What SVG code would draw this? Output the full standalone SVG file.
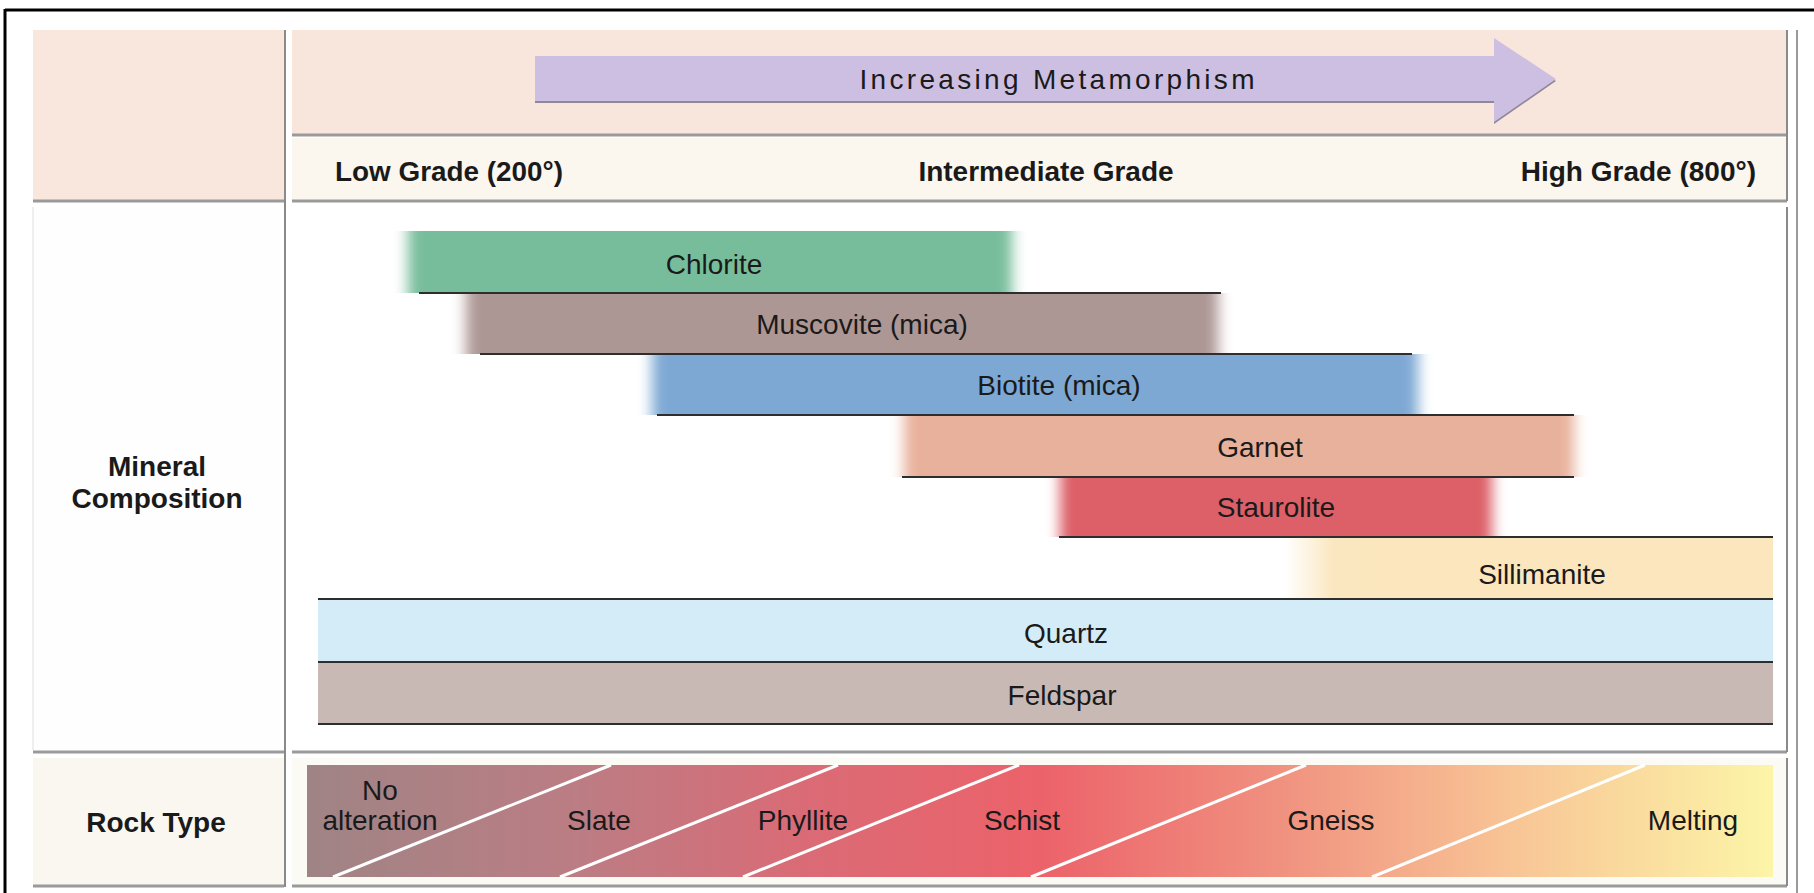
<svg xmlns="http://www.w3.org/2000/svg" width="1814" height="893" viewBox="0 0 1814 893">
<defs>
<style>
.lbl{font-family:"Liberation Sans",Arial,sans-serif;font-size:28px;fill:#1a1a1a;text-anchor:middle}
.bold{font-weight:bold}
.arrowtxt{font-size:28px}
.sep{stroke:#2e2e2e;stroke-width:2}
.shadow{stroke:#9a9a9a;stroke-width:3}
.div{stroke:#8a8a8a;stroke-width:2}
.cut{stroke:#ffffff;stroke-width:3}
</style>
<filter id="soft" x="-5%" y="0" width="110%" height="100%"><feGaussianBlur stdDeviation="7 0"/></filter>
<linearGradient id="sill" x1="0" x2="1" y1="0" y2="0">
<stop offset="0" stop-color="#fbe7bf" stop-opacity="0"/>
<stop offset="0.1" stop-color="#fbe7bf" stop-opacity="1"/>
<stop offset="1" stop-color="#fbe6bd"/>
</linearGradient>
<linearGradient id="rock" x1="0" x2="1" y1="0" y2="0">
<stop offset="0" stop-color="#9f8485"/>
<stop offset="0.18" stop-color="#bb7d84"/>
<stop offset="0.34" stop-color="#da6b76"/>
<stop offset="0.5" stop-color="#ec626a"/>
<stop offset="0.66" stop-color="#f0907f"/>
<stop offset="0.82" stop-color="#f8c495"/>
<stop offset="1" stop-color="#fcf5a8"/>
</linearGradient>
</defs>
<rect width="1814" height="893" fill="#ffffff"/>

<g id="frame">
<line x1="5" y1="10" x2="1814" y2="10" stroke="#000" stroke-width="3"/>
<line x1="5" y1="9" x2="5" y2="893" stroke="#000" stroke-width="3"/>
<line x1="1797" y1="30" x2="1797" y2="893" stroke="#9a9a9a" stroke-width="2"/>
</g>

<g id="header">
<rect x="33" y="30" width="251" height="170" fill="#f9e7de"/>
<rect x="292" y="30" width="1495" height="104" fill="#f8e6dc"/>
<rect x="292" y="138" width="1495" height="62" fill="#fbf6ee"/>
<line class="shadow" x1="292" y1="135" x2="1787" y2="135"/>
<line class="shadow" x1="33" y1="201" x2="284" y2="201"/>
<line class="shadow" x1="292" y1="201" x2="1787" y2="201"/>
<line class="div" x1="1787" y1="30" x2="1787" y2="201"/>
</g>

<g id="arrow">
<path d="M535,58 L1494,58 L1494,40 L1556,81 L1494,124 L1494,103 L535,103 Z" fill="#8f8898"/>
<path d="M535,56 L1494,56 L1494,38 L1556,79 L1494,122 L1494,101 L535,101 Z" fill="#cdbfe2"/>
<text class="lbl arrowtxt" x="1057" y="89" textLength="395" lengthAdjust="spacing">Increasing Metamorphism</text>
</g>

<g id="grades">
<text class="lbl bold" x="335" y="181" style="text-anchor:start" textLength="228" lengthAdjust="spacingAndGlyphs">Low Grade (200°)</text>
<text class="lbl bold" x="1046" y="181">Intermediate Grade</text>
<text class="lbl bold" x="1756" y="181" style="text-anchor:end">High Grade (800°)</text>
</g>

<g id="mineral-panel">
<rect x="33" y="207" width="251" height="543" fill="#fefefe"/>
<rect x="292" y="207" width="1495" height="543" fill="#ffffff"/>
<line class="shadow" x1="33" y1="752" x2="284" y2="752"/>
<line class="shadow" x1="292" y1="752" x2="1787" y2="752"/>
<line class="div" x1="1787" y1="207" x2="1787" y2="752"/>
<line x1="33" y1="207" x2="33" y2="750" stroke="#dedede" stroke-width="1"/>
<text class="lbl bold" x="157" y="476">Mineral</text>
<text class="lbl bold" x="157" y="508">Composition</text>
</g>

<g id="chlorite">
<rect x="408" y="231" width="604" height="62" fill="#78bd9b" filter="url(#soft)"/>
<text class="lbl" x="714" y="274">Chlorite</text>
</g>
<g id="muscovite">
<rect x="466" y="293" width="752" height="61" fill="#ad9795" filter="url(#soft)"/>
<text class="lbl" x="862" y="334">Muscovite (mica)</text>
</g>
<g id="biotite">
<rect x="652" y="354" width="766" height="61" fill="#7ea8d4" filter="url(#soft)"/>
<text class="lbl" x="1059" y="395">Biotite (mica)</text>
</g>
<g id="garnet">
<rect x="904" y="415" width="670" height="62" fill="#e8b19b" filter="url(#soft)"/>
<text class="lbl" x="1260" y="457">Garnet</text>
</g>
<g id="staurolite">
<rect x="1060" y="477" width="432" height="60" fill="#dd5f67" filter="url(#soft)"/>
<text class="lbl" x="1276" y="517">Staurolite</text>
</g>
<g id="sillimanite">
<rect x="1285" y="537" width="488" height="62" fill="url(#sill)"/>
<text class="lbl" x="1542" y="584">Sillimanite</text>
</g>
<g id="quartz">
<rect x="318" y="599" width="1455" height="63" fill="#d3ecf8"/>
<text class="lbl" x="1066" y="643">Quartz</text>
</g>
<g id="feldspar">
<rect x="318" y="662" width="1455" height="62" fill="#c9b9b5"/>
<text class="lbl" x="1062" y="705">Feldspar</text>
</g>

<g id="connectors">
<line class="sep" x1="419" y1="293" x2="1221" y2="293"/>
<line class="sep" x1="480" y1="354" x2="1412" y2="354"/>
<line class="sep" x1="657" y1="415" x2="1574" y2="415"/>
<line class="sep" x1="902" y1="477" x2="1574" y2="477"/>
<line class="sep" x1="1059" y1="537" x2="1773" y2="537"/>
<line class="sep" x1="318" y1="599" x2="1773" y2="599"/>
<line class="sep" x1="318" y1="662" x2="1773" y2="662"/>
<line class="sep" x1="318" y1="724" x2="1773" y2="724"/>
</g>

<g id="rock-panel">
<rect x="33" y="758" width="251" height="127" fill="#faf7f1"/>
<rect x="292" y="758" width="1495" height="127" fill="#fbfaf5"/>
<line class="shadow" x1="33" y1="886" x2="284" y2="886"/>
<line class="shadow" x1="292" y1="886" x2="1787" y2="886"/>
<line class="div" x1="1787" y1="758" x2="1787" y2="886"/>
<text class="lbl bold" x="156" y="832">Rock Type</text>
</g>

<g id="rock-band">
<rect x="307" y="765" width="1466" height="112" fill="url(#rock)"/>
<line class="cut" x1="333" y1="877" x2="611" y2="765"/>
<line class="cut" x1="560" y1="877" x2="838" y2="765"/>
<line class="cut" x1="743" y1="877" x2="1019" y2="765"/>
<line class="cut" x1="1031" y1="877" x2="1306" y2="765"/>
<line class="cut" x1="1372" y1="877" x2="1645" y2="765"/>
<text class="lbl" x="380" y="800">No</text>
<text class="lbl" x="380" y="830">alteration</text>
<text class="lbl" x="599" y="830">Slate</text>
<text class="lbl" x="803" y="830">Phyllite</text>
<text class="lbl" x="1022" y="830">Schist</text>
<text class="lbl" x="1331" y="830">Gneiss</text>
<text class="lbl" x="1693" y="830">Melting</text>
</g>

<line class="div" x1="285" y1="30" x2="285" y2="887"/>
</svg>
